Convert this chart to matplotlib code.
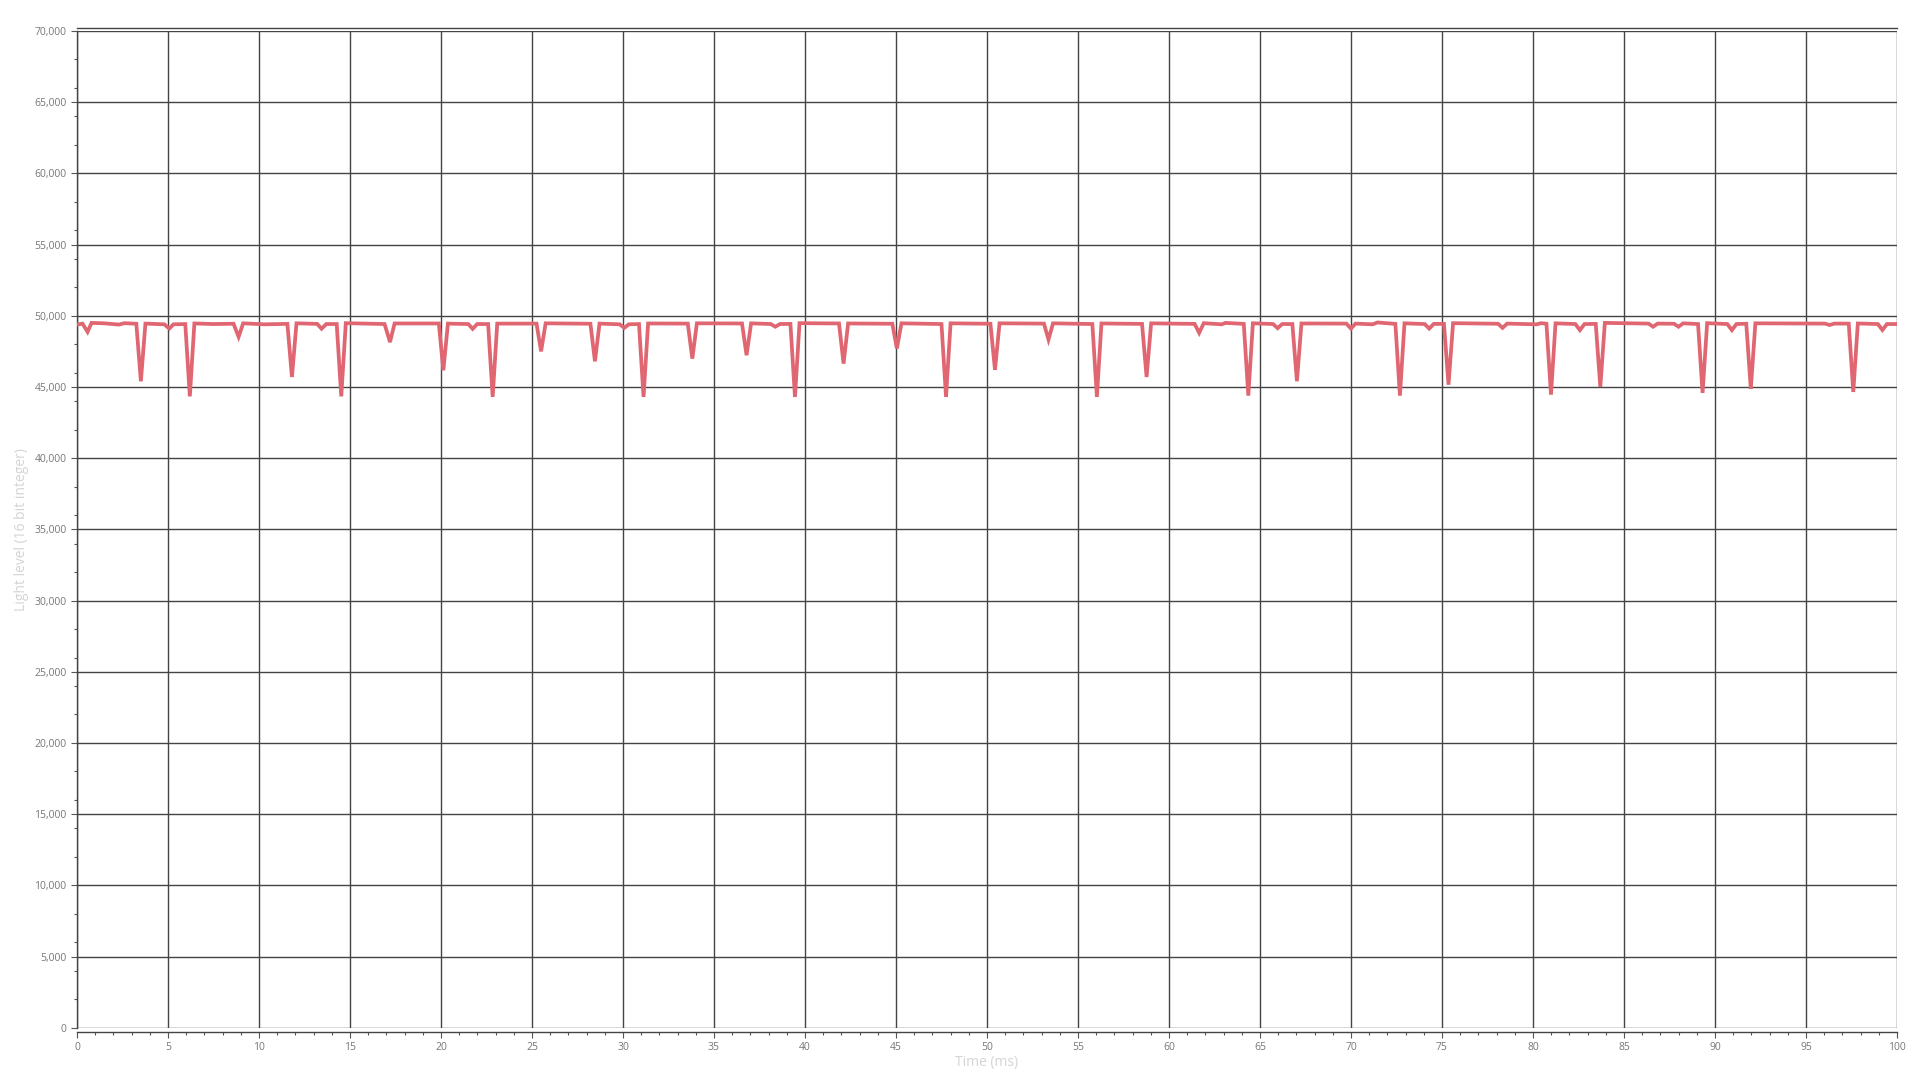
import matplotlib
matplotlib.use("Agg")
import matplotlib.pyplot as plt
from matplotlib.ticker import MultipleLocator, StrMethodFormatter

plt.rcParams['font.family'] = ['Open Sans', 'DejaVu Sans']

# sample times (ms) and light level
time_ms = [
    0, 0.3, 0.58, 0.8, 1.5, 2.3, 2.6, 3.26, 3.51, 3.76,
    4.8, 5.07, 5.3, 5.95, 6.2, 6.45, 7.5, 8.6, 8.88, 9.13,
    10.3, 11.56, 11.81, 12.06, 13.2, 13.44, 13.7, 14.27, 14.52, 14.77,
    16.9, 17.2, 17.45, 19.88, 20.13, 20.38, 21.5, 21.74, 21.99, 22.59,
    22.84, 23.09, 25.25, 25.5, 25.75, 28.21, 28.46, 28.71, 29.82, 30.07,
    30.32, 30.88, 31.13, 31.38, 33.56, 33.81, 34.06, 36.54, 36.79, 37.04,
    38.12, 38.37, 38.62, 39.2, 39.45, 39.7, 41.87, 42.12, 42.37, 44.8,
    45.05, 45.3, 47.5, 47.75, 48.0, 50.19, 50.44, 50.69, 53.13, 53.38,
    53.63, 55.79, 56.04, 56.29, 58.52, 58.77, 59.02, 61.41, 61.66, 61.91,
    62.9, 63.1, 64.11, 64.36, 64.61, 65.72, 65.97, 66.22, 66.78, 67.03,
    67.28, 69.75, 70.0, 70.25, 71.2, 71.45, 72.44, 72.69, 72.94, 74.05,
    74.3, 74.55, 75.11, 75.36, 75.61, 78.08, 78.33, 78.58, 80.2, 80.45,
    80.74, 80.99, 81.24, 82.33, 82.58, 82.83, 83.45, 83.7, 83.95, 86.35,
    86.6, 86.85, 87.75, 88.0, 88.25, 89.07, 89.32, 89.57, 90.68, 90.93,
    91.18, 91.72, 91.97, 92.22, 96.05, 96.3, 96.55, 97.35, 97.6, 97.85,
    98.95, 99.2, 99.45, 100,
]
light_level = [
    49380, 49450, 48870, 49500, 49470, 49380, 49480, 49440, 45400, 49450,
    49400, 49100, 49400, 49420, 44340, 49460, 49420, 49440, 48520, 49470,
    49400, 49430, 45700, 49470, 49430, 49090, 49420, 49420, 44340, 49480,
    49420, 48150, 49460, 49460, 46170, 49450, 49420, 49080, 49420, 49420,
    44300, 49450, 49450, 47500, 49470, 49440, 46800, 49450, 49400, 49150,
    49400, 49420, 44300, 49460, 49450, 46990, 49470, 49460, 47230, 49470,
    49420, 49230, 49420, 49430, 44300, 49480, 49460, 46640, 49460, 49440,
    47700, 49470, 49420, 44300, 49470, 49440, 46200, 49470, 49450, 48330,
    49470, 49420, 44300, 49460, 49430, 45700, 49470, 49430, 48800, 49480,
    49400, 49500, 49430, 44390, 49470, 49420, 49130, 49420, 49420, 45400,
    49460, 49450, 49100, 49450, 49400, 49530, 49430, 44390, 49470, 49420,
    49100, 49430, 49430, 45160, 49480, 49440, 49150, 49450, 49400, 49480,
    49440, 44460, 49470, 49420, 48990, 49420, 49430, 45000, 49500, 49450,
    49230, 49450, 49440, 49230, 49470, 49420, 44580, 49480, 49420, 48990,
    49420, 49440, 44860, 49470, 49450, 49350, 49450, 49450, 44650, 49460,
    49420, 49000, 49420, 49420,
]

fig = plt.figure(figsize=(19.2, 10.8), dpi=100)
ax = fig.add_axes([0.0401, 0.0484, 0.9479, 0.9229])

ax.plot(time_ms, light_level, color='#e06672', lw=2.7, solid_joinstyle='miter', zorder=3)

ax.set_xlim(0, 100)
ax.set_ylim(0, 70000)
ax.xaxis.set_major_locator(MultipleLocator(5))
ax.xaxis.set_minor_locator(MultipleLocator(1))
ax.yaxis.set_major_locator(MultipleLocator(5000))
ax.yaxis.set_minor_locator(MultipleLocator(2000))
ax.yaxis.set_major_formatter(StrMethodFormatter('{x:,.0f}'))

ax.grid(True, which='major', color='#444444', lw=1.0)
ax.set_axisbelow(True)

for side in ['left', 'bottom', 'top']:
    ax.spines[side].set_color('#444444')
    ax.spines[side].set_linewidth(1.0)
ax.spines['bottom'].set_position(('outward', 3))
ax.spines['top'].set_position(('outward', 2))
ax.spines['right'].set_visible(False)

ax.tick_params(axis='both', which='major', colors='#555555', labelcolor='#777777',
               labelsize=7.5, length=4, width=0.8)
ax.tick_params(axis='both', which='minor', colors='#555555', length=2.5, width=0.8)

ax.set_xlabel('Time (ms)', color='#d4d4d4', fontsize=10, labelpad=1)
ax.set_ylabel('Light level (16 bit integer)', color='#d4d4d4', fontsize=10, labelpad=4)

fig.savefig('out.png', dpi=100, facecolor='white')
